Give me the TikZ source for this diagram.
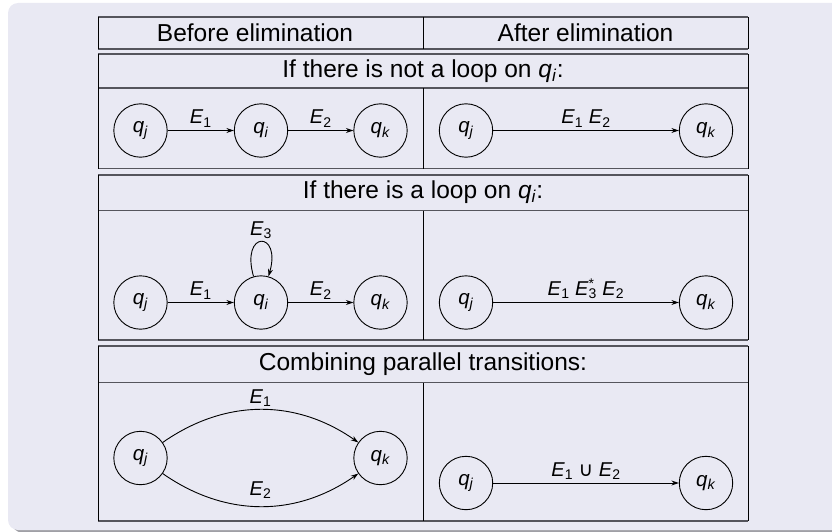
\documentclass[tikz,border=0pt]{standalone}
\usepackage{fontspec}
\setmainfont{Liberation Sans}
\newfontfamily\symfont{DejaVu Sans}
\usetikzlibrary{arrows.meta}
\definecolor{blockbg}{RGB}{233,233,243}
\definecolor{shadowc}{RGB}{160,160,166}
\definecolor{hlinec}{RGB}{85,85,92}
\newcommand{\mysq}[1]{\textit{q}\textsubscript{\textit{#1}}}
\newcommand{\myE}[1]{\textit{E}\textsubscript{#1}}
\newcommand{\secbox}[3]{%
  \draw[hl] (98,#1) -- (748,#1);
  \draw[hl] (98,#2) -- (748,#2);
  \draw[hl] (98,#3) -- (748,#3);
  \draw[vl] (98,#1) -- (98,#3);
  \draw[vl] (748,#1) -- (748,#3);
  \draw[vl] (423,#2) -- (423,#3);}
\begin{document}
\begin{tikzpicture}[x=1pt,y=-1pt,
  stnode/.style={circle,draw,line width=0.9pt,minimum size=53.4pt,inner sep=0pt,font=\fontsize{20.5}{22}\selectfont},
  lbl/.style={font=\fontsize{20}{22}\selectfont,inner sep=3pt},
  ttl/.style={font=\fontsize{24.5}{28}\selectfont},
  arr/.style={-{Stealth[length=7.5pt,width=5pt]},line width=0.9pt},
  hl/.style={draw=hlinec,line width=1.4pt},
  vl/.style={draw=black,line width=1pt}]
\useasboundingbox (0,0) rectangle (832,532);
\fill[shadowc,rounded corners=10pt] (12,6) rectangle (860,532.5);
\fill[blockbg,rounded corners=10pt] (8,3) rectangle (860,530);
% header
\draw[hl] (98,17) -- (748,17);
\draw[hl] (98,49) -- (748,49);
\draw[vl] (98,17) -- (98,49);
\draw[vl] (748,17) -- (748,49);
\draw[vl] (423,17) -- (423,49);
\node[ttl] (h1) at (255,33) {Before elimination};
\node[ttl] (h2) at (585.5,33) {After elimination};
% section boxes
\secbox{54}{88}{168.5}
\secbox{175}{210.5}{340}
\secbox{346}{382.5}{521}
\node[ttl] (t1) at (423,71) {If there is not a loop on \mysq{i}:};
\node[ttl] (t2) at (423,192.5) {If there is a loop on \mysq{i}:};
\node[ttl] (t3) at (423,364) {Combining parallel transitions:};
% section 1
\node[stnode] (a1) at (140.5,130.5) {\mysq{j}};
\node[stnode] (a2) at (261,130.5) {\mysq{i}};
\node[stnode] (a3) at (380.5,130.5) {\mysq{k}};
\draw[arr] (a1) -- node[lbl,above] {\myE{1}} (a2);
\draw[arr] (a2) -- node[lbl,above] {\myE{2}} (a3);
\node[stnode] (b1) at (466,130.5) {\mysq{j}};
\node[stnode] (b2) at (706,130.5) {\mysq{k}};
\draw[arr] (b1) -- node[lbl,above] {\myE{1} \myE{2}} (b2);
% section 2
\node[stnode] (c1) at (140.5,302.5) {\mysq{j}};
\node[stnode] (c2) at (261,302.5) {\mysq{i}};
\node[stnode] (c3) at (380.5,302.5) {\mysq{k}};
\draw[arr] (c1) -- node[lbl,above] {\myE{1}} (c2);
\draw[arr] (c2) -- node[lbl,above] {\myE{2}} (c3);
\draw[arr] (c2) to[out=106,in=74,distance=48pt] node[lbl,above] {\myE{3}} (c2);
\node[stnode] (d1) at (466,302.5) {\mysq{j}};
\node[stnode] (d2) at (706,302.5) {\mysq{k}};
\draw[arr] (d1) -- node[lbl,above] {\myE{1} \textit{E}\rlap{\textsuperscript{*}}\textsubscript{3} \myE{2}} (d2);
% section 3
\node[stnode] (e1) at (140.5,458) {\mysq{j}};
\node[stnode] (e2) at (380.5,458) {\mysq{k}};
\draw[arr] (e1) to[bend left=35] node[lbl,above] {\myE{1}} (e2);
\draw[arr] (e1) to[bend right=35] node[lbl,above=4pt] {\myE{2}} (e2);
\node[stnode] (f1) at (466,483) {\mysq{j}};
\node[stnode] (f2) at (706,483) {\mysq{k}};
\draw[arr] (f1) -- node[lbl,above] {\myE{1} {\symfont ∪} \myE{2}} (f2);
\end{tikzpicture}
\end{document}
